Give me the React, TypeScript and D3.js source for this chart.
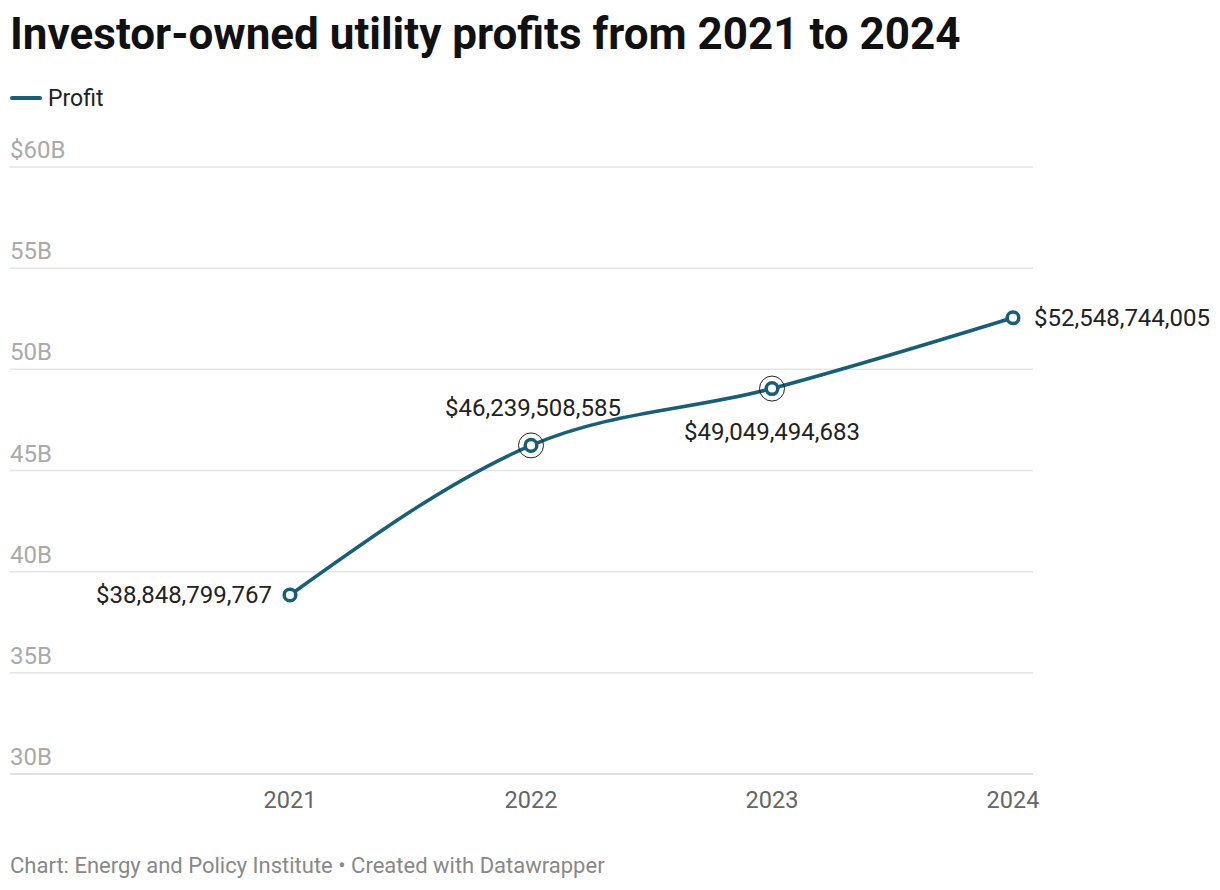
import React from "react";
import * as d3 from "d3";

const years = [2021, 2022, 2023, 2024];
const profits = [38848799767, 46239508585, 49049494683, 52548744005];
const yTicks = [30, 35, 40, 45, 50, 55, 60];
const labelPos = ["left", "above", "below", "right"];
const highlighted = [false, true, true, false];

const W = 1220;
const H = 890;
const FONT = "Roboto, 'Noto Sans', sans-serif";
const LINE = "#1a5e75";

export default function App() {
  const x = d3.scaleLinear().domain([2021, 2024]).range([290, 1013]);
  const y = d3.scaleLinear().domain([30, 60]).range([774, 167]);
  const pts = years.map((yr, i) => [x(yr), y(profits[i] / 1e9)] as [number, number]);
  const line = d3.line<[number, number]>().curve(d3.curveMonotoneX)(pts) || "";
  const fmt = d3.format(",");

  return (
    <svg width={W} height={H} style={{ position: "absolute", left: 0, top: 0, background: "#fff" }} fontFamily={FONT}>
      <rect width={W} height={H} fill="#fff" />
      <text x={10} y={49} fontSize={44} fontWeight={700} fill="#111">
        Investor-owned utility profits from 2021 to 2024
      </text>
      <line x1={12} x2={40} y1={98} y2={98} stroke={LINE} strokeWidth={4} strokeLinecap="round" />
      <text x={48} y={106} fontSize={23} fill="#222">Profit</text>

      {yTicks.map((t) => (
        <g key={t}>
          <line x1={10} x2={1033} y1={y(t)} y2={y(t)} stroke={t === 30 ? "#d9d9d9" : "#e5e5e5"} strokeWidth={1.5} />
          <text x={10} y={y(t) - 9} fontSize={24} fill="#aaaaaa">
            {t === 60 ? "$60B" : `${t}B`}
          </text>
        </g>
      ))}

      {years.map((yr) => (
        <text key={yr} x={x(yr)} y={808} fontSize={23.5} fill="#666" textAnchor="middle">
          {yr}
        </text>
      ))}

      <path d={line} fill="none" stroke={LINE} strokeWidth={3.5} />

      {pts.map(([px, py], i) => (
        <g key={i}>
          {highlighted[i] && <circle cx={px} cy={py} r={12.5} fill="none" stroke="#222" strokeWidth={1} />}
          <circle cx={px} cy={py} r={5.8} fill="#fff" stroke={LINE} strokeWidth={3.5} />
        </g>
      ))}

      {pts.map(([px, py], i) => {
        const txt = "$" + fmt(profits[i]);
        const pos = labelPos[i];
        let tx = px, ty = py + 8, anchor: "start" | "middle" | "end" = "middle";
        if (pos === "left") { tx = px - 18; anchor = "end"; }
        if (pos === "right") { tx = px + 21; anchor = "start"; }
        if (pos === "above") { tx = px + 2; ty = py - 29; }
        if (pos === "below") { ty = py + 51; }
        return (
          <text key={i} x={tx} y={ty} fontSize={24} fill="#222" textAnchor={anchor}>
            {txt}
          </text>
        );
      })}

      <text x={10} y={873} fontSize={22} fill="#888">
        Chart: Energy and Policy Institute • Created with Datawrapper
      </text>
    </svg>
  );
}
